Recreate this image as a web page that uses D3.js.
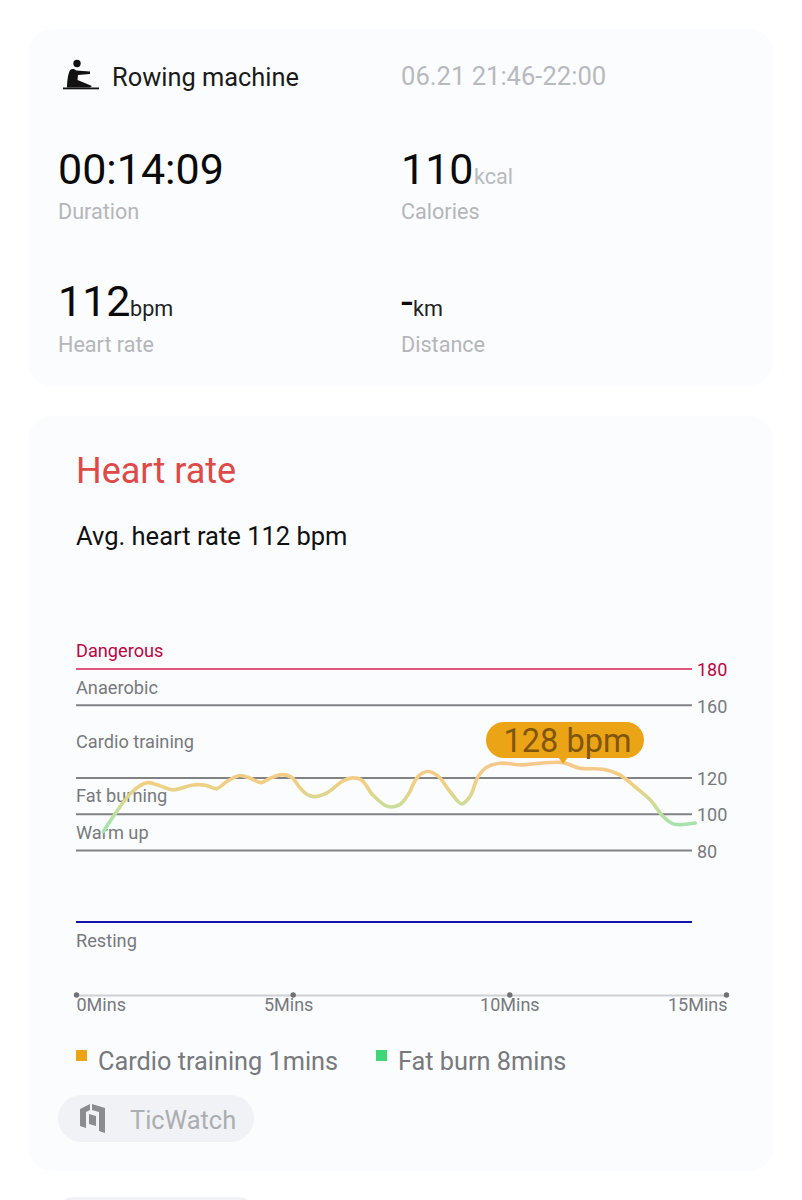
<!DOCTYPE html>
<html>
<head>
<meta charset="utf-8">
<script src="https://cdn.jsdelivr.net/npm/d3@7"></script>
<style>
  html, body { margin: 0; padding: 0; background: #fff; }
  text { font-family: Roboto, sans-serif; }
</style>
</head>
<body>
<div id="chart"></div>
<script>
// heart rate trace
const minutes = [0.63, 0.86, 1.17, 1.43, 1.66, 1.94, 2.24, 2.70, 2.98, 3.25, 3.48, 3.78, 4.02, 4.27, 4.48, 4.75, 4.98,
  5.17, 5.35, 5.52, 5.79, 6.17, 6.39, 6.59, 6.85, 7.20, 7.48, 7.66, 7.89, 8.12, 8.35, 8.63, 8.90, 9.09, 9.28, 9.48,
  9.79, 10.29, 10.71, 11.24, 11.63, 12.16, 12.55, 12.94, 13.25, 13.55, 13.78, 14.01, 14.29];
const bpm = [90.4, 98.7, 109, 115, 117.4, 115.6, 113.4, 116.1, 116, 114.1, 118, 121.3, 119.8, 117.4, 119.8, 121.8, 120.2,
  114.5, 110.6, 109.7, 111.7, 118.5, 120, 118.9, 110.6, 104.2, 105.4, 110.6, 120.7, 123.5, 121.1, 112.5, 105.7, 109.7, 120.7, 125.9,
  128.1, 127.2, 128.1, 128.4, 125.3, 124.8, 121.7, 114.3, 107.9, 98.7, 94.7, 94.3, 95.1];

const zoneValues = [180, 160, 120, 100, 80, 40.6];
const zoneColors = ["#e0567c", "#808285", "#808285", "#808285", "#808285", "#1414a8"];
const yTicks = [180, 160, 120, 100, 80];
const zoneNames = ["Dangerous", "Anaerobic", "Cardio training", "Fat burning", "Warm up", "Resting"];
const zoneNameValues = [186.5, 166.5, 136.7, 106.6, 86.4, 27];
const xTicks = [0, 5, 10, 15];
const legendNames = ["Cardio training 1mins", "Fat burn 8mins"];
const legendColors = ["#eca417", "#3fd67a"];
const peakLabel = "128 bpm";

const width = 802, height = 1200;
const svg = d3.select("#chart").append("svg")
  .attr("width", width)
  .attr("height", height)
  .style("display", "block");

const cardFill = "#fbfcfe";
svg.append("rect").attr("x", 28).attr("y", 29).attr("width", 745).attr("height", 357).attr("rx", 24).attr("fill", cardFill);
svg.append("rect").attr("x", 28).attr("y", 416).attr("width", 745).attr("height", 755).attr("rx", 24).attr("fill", cardFill);

function label(x, y, txt, size, color, weight) {
  return svg.append("text")
    .attr("x", x).attr("y", y)
    .attr("font-size", size)
    .attr("fill", color)
    .attr("font-weight", weight || 400)
    .text(txt);
}

// summary card
const rower = svg.append("g").attr("transform", "translate(63,59)");
rower.append("circle").attr("cx", 14).attr("cy", 4.5).attr("r", 3.7).attr("fill", "#111");
rower.append("path").attr("fill", "#111")
  .attr("d", "M7 11 C9 9.5 12 10 13 11.5 L27 12.5 L27 15 L15 16 L14.5 21 L29 27 L27 28.5 L4 28.5 C4 22 5 15 7 11 Z");
rower.append("rect").attr("x", 0).attr("y", 28.5).attr("width", 36).attr("height", 1.8).attr("fill", "#111");

label(112, 86, "Rowing machine", 25.4, "#1a1a1a");
label(401, 85, "06.21 21:46-22:00", 25.6, "#b8babe");

const big = "#0a0a0a", small = "#b4b6ba";
label(58, 184, "00:14:09", 43, big);
label(58, 218.5, "Duration", 21.6, small);
label(401, 184, "110", 43, big);
label(474, 183.5, "kcal", 21.6, "#b8babe");
label(401, 218.5, "Calories", 21.6, small);
label(58, 316, "112", 43, big);
label(130, 316, "bpm", 21.6, "#222");
label(58, 351.5, "Heart rate", 21.6, small);
label(401, 316, "-", 43, big);
label(413, 316, "km", 21.6, "#222");
label(401, 351.5, "Distance", 21.6, small);

// heart rate card
label(76, 483, "Heart rate", 36, "#dd4a48");
label(76, 544.5, "Avg. heart rate 112 bpm", 25.5, "#111");

const x = d3.scaleLinear().domain([0, 15]).range([76, 726]);
const y = d3.scaleLinear().domain([80, 180]).range([850.5, 669]);
const lineEnd = 692;

const grid = svg.append("g");
grid.selectAll("line")
  .data(zoneValues)
  .join("line")
  .attr("x1", x(0))
  .attr("x2", lineEnd)
  .attr("y1", d => y(d))
  .attr("y2", d => y(d))
  .attr("stroke", (d, i) => zoneColors[i])
  .attr("stroke-width", 2);

svg.append("g")
  .selectAll("text")
  .data(zoneNames)
  .join("text")
  .attr("x", 76)
  .attr("y", (d, i) => y(zoneNameValues[i]))
  .attr("font-size", 18.2)
  .attr("fill", d => d === "Dangerous" ? "#b8063f" : "#77797d")
  .text(d => d);

// right hand value axis
const yAxis = svg.append("g")
  .attr("transform", `translate(${lineEnd},1)`)
  .call(d3.axisRight(y).tickValues(yTicks).tickSize(0).tickPadding(5));
yAxis.select(".domain").remove();
yAxis.selectAll("text")
  .attr("font-size", 18)
  .attr("font-family", "Roboto, sans-serif")
  .attr("fill", d => d === 180 ? "#b8063f" : "#77797d");

// bottom time axis
const xAxis = svg.append("g")
  .attr("transform", "translate(0,995)")
  .call(d3.axisBottom(x).tickValues(xTicks).tickSize(0).tickPadding(3).tickFormat(d => d + "Mins"));
xAxis.select(".domain").attr("stroke", "#cfd0d3").attr("stroke-width", 2);
xAxis.selectAll("text")
  .attr("font-size", 18)
  .attr("font-family", "Roboto, sans-serif")
  .attr("fill", "#77797d")
  .attr("text-anchor", d => d === 0 ? "start" : d === 15 ? "end" : "middle")
  .attr("dx", d => d === 5 ? -4.5 : d === 15 ? 1 : 0);
xAxis.selectAll(".tick").append("circle")
  .attr("r", 2.7)
  .attr("fill", "#6f7174");

// trace, coloured by heart rate
const defs = svg.append("defs");
const grad = defs.append("linearGradient")
  .attr("id", "hrGradient")
  .attr("gradientUnits", "userSpaceOnUse")
  .attr("x1", 0).attr("x2", 0)
  .attr("y1", y(94)).attr("y2", y(128));
grad.append("stop").attr("offset", "0%").attr("stop-color", "#a6e3ae");
grad.append("stop").attr("offset", "35%").attr("stop-color", "#cfdc95");
grad.append("stop").attr("offset", "65%").attr("stop-color", "#efd084");
grad.append("stop").attr("offset", "100%").attr("stop-color", "#f6c88a");

const line = d3.line()
  .x(i => x(minutes[i]))
  .y(i => y(bpm[i]))
  .curve(d3.curveCatmullRom.alpha(0.5));

svg.append("path")
  .attr("d", line(d3.range(minutes.length)))
  .attr("fill", "none")
  .attr("stroke", "url(#hrGradient)")
  .attr("stroke-width", 3.6)
  .attr("stroke-linecap", "round");

// max value bubble
const peak = d3.maxIndex(bpm);
const px = x(minutes[peak]), py = y(bpm[peak]);
const bubbleColor = "#eca417";
svg.append("rect")
  .attr("x", 486).attr("y", 722)
  .attr("width", 158).attr("height", 36)
  .attr("rx", 18)
  .attr("fill", bubbleColor);
svg.append("path")
  .attr("d", d3.line()([[px - 5, 757], [px + 5, 757], [px, py + 1]]))
  .attr("fill", bubbleColor);
svg.append("text")
  .attr("x", 567.5).attr("y", 752)
  .attr("text-anchor", "middle")
  .attr("font-size", 32.5)
  .attr("fill", "#80560c")
  .text(peakLabel);

// legend
const legendX = [76, 376];
legendNames.forEach((name, i) => {
  svg.append("rect").attr("x", legendX[i]).attr("y", 1050).attr("width", 11).attr("height", 11).attr("fill", legendColors[i]);
  label(legendX[i] + 22, 1070, name, 25.3, "#77797d");
});

// device chip
svg.append("rect").attr("x", 58).attr("y", 1095).attr("width", 196).attr("height", 47).attr("rx", 23.5).attr("fill", "#f1f2f5");
const chip = svg.append("g").attr("transform", "translate(80,1103)").attr("fill", "#8a8c90");
chip.append("path").attr("d", "M0 6 L10 1 L10 7 L6 9 L6 25 L0 23 Z");
chip.append("path").attr("d", "M12 1 L25 5 L25 30 L19 28 L19 9 L12 7 Z");
chip.append("path").attr("d", "M9 11 L16 13 L16 23 L9 21 Z");
label(130, 1129, "TicWatch", 25.4, "#abadb1");

// top of the next card, cut off by the screen edge
svg.append("rect").attr("x", 58).attr("y", 1197).attr("width", 196).attr("height", 30).attr("rx", 15).attr("fill", "#f1f2f5");
</script>
</body>
</html>
